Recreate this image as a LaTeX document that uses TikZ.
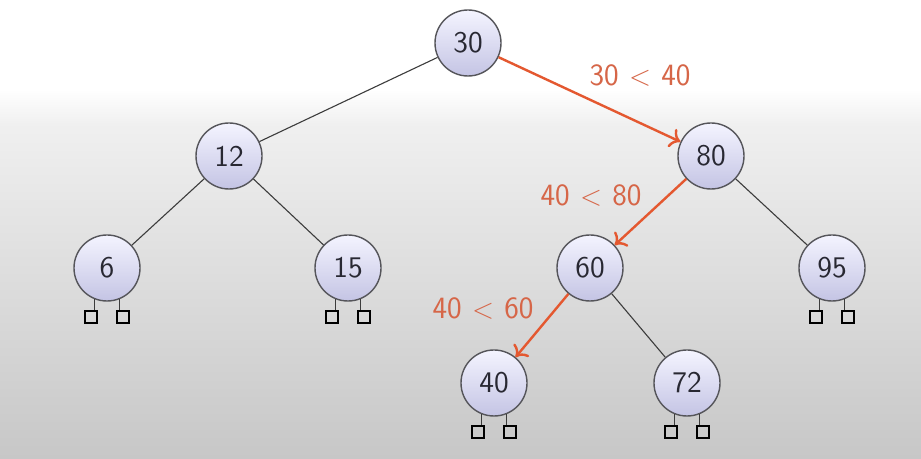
\documentclass[tikz,border=0pt]{standalone}
\usetikzlibrary{arrows.meta}
\definecolor{edgegray}{RGB}{60,60,60}
\definecolor{ringgray}{RGB}{85,85,90}
\definecolor{fillhi}{RGB}{244,244,255}
\definecolor{filllo}{RGB}{196,196,228}
\definecolor{pathred}{RGB}{228,88,48}
\definecolor{cmpred}{RGB}{214,102,72}
\definecolor{keytext}{RGB}{40,40,50}
\tikzset{
  keynode/.style={circle, draw=ringgray, line width=0.7pt, minimum size=33pt,
    inner sep=0pt, top color=fillhi, bottom color=filllo, text=keytext,
    font=\sffamily\fontsize{15}{17}\selectfont},
  treeedge/.style={draw=edgegray, line width=0.55pt},
  searchedge/.style={draw=pathred, line width=1.2pt, -{To[length=5pt,width=10pt]}},
  cmplabel/.style={text=cmpred, font=\sffamily\fontsize{15.5}{18}\selectfont},
  leafbox/.style={draw=black, line width=0.6pt, minimum size=6pt, inner sep=0pt, fill=none},
  leg/.style={draw=edgegray, line width=0.55pt}
}
\begin{document}
\begin{tikzpicture}[x=0.5pt,y=-0.5pt]
  % background: white band on top, soft grey gradient below
  \useasboundingbox (0,0) rectangle (921,459);
  \fill[white] (0,0) rectangle (921,90);
  \shade[top color=white, bottom color=black!6] (0,89) rectangle (921,125);
  \shade[top color=black!6, bottom color=black!22] (0,124) rectangle (921,459);

  % keys
  \node[keynode] (n30) at (468,43) {30};
  \node[keynode] (n12) at (229,156) {12};
  \node[keynode] (n80) at (711,156) {80};
  \node[keynode] (n6)  at (107,268) {6};
  \node[keynode] (n15) at (348,268) {15};
  \node[keynode] (n60) at (590,268) {60};
  \node[keynode] (n95) at (832,268) {95};
  \node[keynode] (n40) at (494,383) {40};
  \node[keynode] (n72) at (687,383) {72};

  % ordinary child links
  \draw[treeedge] (n30) -- (n12);
  \draw[treeedge] (n12) -- (n6);
  \draw[treeedge] (n12) -- (n15);
  \draw[treeedge] (n80) -- (n95);
  \draw[treeedge] (n60) -- (n72);

  % search path for key 40
  \draw[searchedge] (n30) -- (n80);
  \draw[searchedge] (n80) -- (n60);
  \draw[searchedge] (n60) -- (n40);

  \node[cmplabel] (c1) at (640,75)  {30\,\,$<$\,\,40};
  \node[cmplabel] (c2) at (591,195) {40\,\,$<$\,\,80};
  \node[cmplabel] (c3) at (483,308) {40\,\,$<$\,\,60};

  % empty leaves under each bottom key
  \foreach \n in {n6,n15,n95,n40,n72} {
    \node[leafbox] (\n-l) at ([xshift=-8pt,yshift=-24.5pt]\n.center) {};
    \node[leafbox] (\n-r) at ([xshift=8pt,yshift=-24.5pt]\n.center) {};
    \draw[leg] (\n.-111) -- (\n.-111 |- \n-l.north);
    \draw[leg] (\n.-69) -- (\n.-69 |- \n-r.north);
  }
\end{tikzpicture}
\end{document}
